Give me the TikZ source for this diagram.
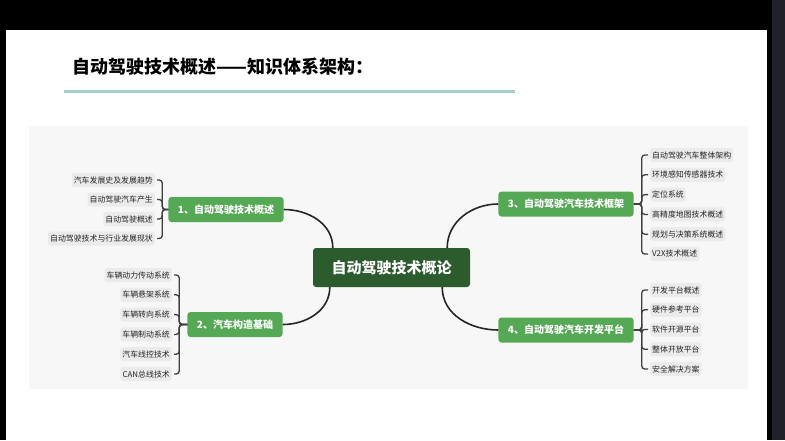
\documentclass[tikz,border=0pt]{standalone}
\usepackage{fontspec}
\setmainfont{Noto Sans CJK SC}
\usepackage{tikz}
\usetikzlibrary{arrows.meta,calc}
\usepackage{xcolor}
\definecolor{deepgreen}{HTML}{2C5B2E}
\definecolor{leafgreen}{HTML}{55A955}
\definecolor{panelgray}{HTML}{F7F7F7}
\definecolor{chipgray}{HTML}{EBEBEB}
\definecolor{rulegreen}{HTML}{A5D0C5}
\definecolor{sidedark}{HTML}{1F2029}

\begin{document}
\begin{tikzpicture}[x=1pt,y=1pt,
  root/.style={fill=deepgreen, text=white, rounded corners=3, minimum width=157, minimum height=39, font=\fontsize{15}{18}\selectfont\bfseries},
  branch/.style={fill=leafgreen, text=white, rounded corners=3, minimum height=25, inner xsep=9.5, font=\fontsize{10}{12}\selectfont\bfseries},
  leaf/.style={fill=chipgray, text=black!85, rounded corners=2.5, minimum height=14, inner ysep=0, inner xsep=2, font=\fontsize{7.9}{9}\selectfont},
  link/.style={line width=1.6, black!85},
  brk/.style={line width=1.3, black!75, rounded corners=3}]
  \useasboundingbox (0,0) rectangle (785,-440);
  \fill[black] (0,0) rectangle (785,-440);
  \fill[sidedark] (772,0) rectangle (785,-440);
  \fill[white] (6,-30) rectangle (767,-440);
  \node[anchor=west, font=\fontsize{18}{21}\selectfont\bfseries] (title) at (69,-66.5) {自动驾驶技术概述——知识体系架构：};
  \draw[rulegreen, line width=3] (64,-91) -- (515,-91);
  \fill[panelgray] (29,-126) rectangle (748,-389);

  \node[root] (c) at (391.5,-267.5) {自动驾驶技术概论};
  \node[branch] (b1) at (226,-209.5) {1、自动驾驶技术概述};
  \node[branch] (b2) at (235,-324.5) {2、汽车构造基础};
  \node[branch] (b3) at (566,-204) {3、自动驾驶汽车技术框架};
  \node[branch] (b4) at (566,-330) {4、自动驾驶汽车开发平台};

  \draw[link] ([xshift=20]c.north west) to[out=90,in=0] (b1.east);
  \draw[link] ([xshift=17]c.south west) to[out=-90,in=0] (b2.east);
  \draw[link] ([xshift=-23]c.north east) to[out=90,in=180] (b3.west);
  \draw[link] ([xshift=-28]c.south east) to[out=-90,in=180] (b4.west);

  \foreach \t [count=\i] in {汽车发展史及发展趋势,自动驾驶汽车产生,自动驾驶概述,自动驾驶技术与行业发展现状}
    \node[leaf, anchor=east] (l1\i) at (155,{-180-19.5*(\i-1)}) {\t};
  \foreach \t [count=\i] in {车辆动力传动系统,车辆悬架系统,车辆转向系统,车辆制动系统,汽车线控技术,CAN总线技术}
    \node[leaf, anchor=east] (l2\i) at (172,{-275-19.8*(\i-1)}) {\t};
  \foreach \t [count=\i] in {自动驾驶汽车整体架构,环境感知传感器技术,定位系统,高精度地图技术概述,规划与决策系统概述,V2X技术概述}
    \node[leaf, anchor=west] (l3\i) at (650,{-155-19.8*(\i-1)}) {\t};
  \foreach \t [count=\i] in {开发平台概述,硬件参考平台,软件开源平台,整体开放平台,安全解决方案}
    \node[leaf, anchor=west] (l4\i) at (650,{-290-19.75*(\i-1)}) {\t};

  \foreach \i in {1,...,4} \draw[brk] (b1.west) -- ++(-6,0) |- ([xshift=2]l1\i.east);
  \foreach \i in {1,...,6} \draw[brk] (b2.west) -- ++(-8,0) |- ([xshift=2]l2\i.east);
  \foreach \i in {1,...,6} \draw[brk] (b3.east) -- ++(8,0) |- ([xshift=-2]l3\i.west);
  \foreach \i in {1,...,5} \draw[brk] (b4.east) -- ++(8,0) |- ([xshift=-2]l4\i.west);
\end{tikzpicture}
\end{document}
